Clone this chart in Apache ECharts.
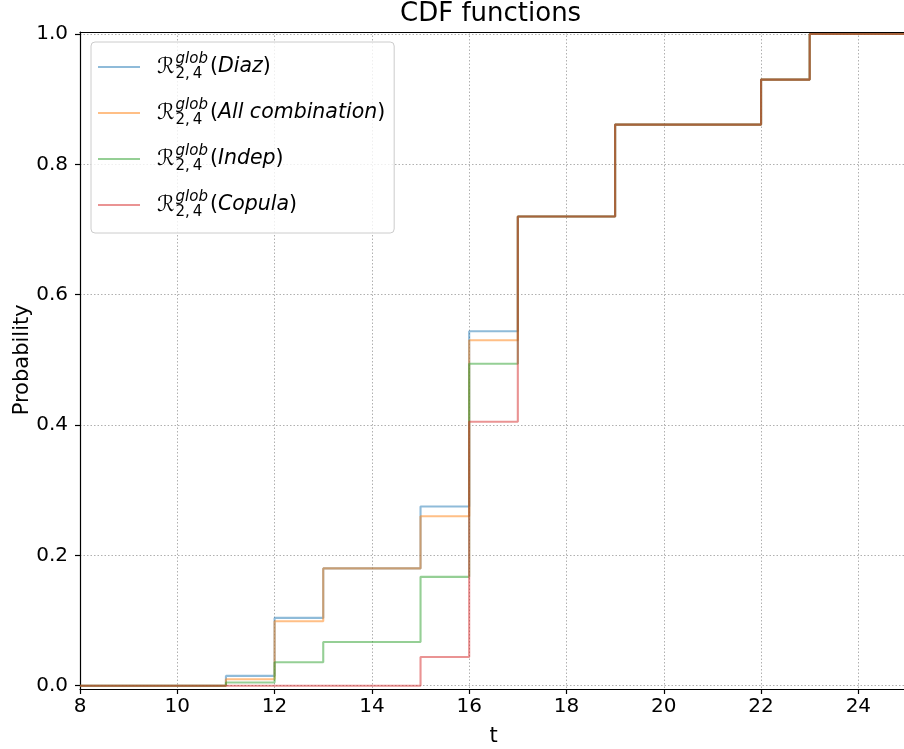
<!DOCTYPE html>
<html>
<head>
<meta charset="utf-8">
<script src="https://cdn.jsdelivr.net/npm/echarts@6/dist/echarts.min.js"></script>
<style>html,body{margin:0;padding:0;background:#fff;}#c{width:904px;height:749px;}</style>
</head>
<body>
<div id="c"></div>
<script>
// Data (step CDF, value holds from t until next t)
const tValues = [8, 11, 12, 13, 15, 16, 17, 19, 22, 23, 25];
const diaz     = [0, 0.015, 0.104, 0.180, 0.275, 0.544, 0.720, 0.861, 0.930, 1.0, 1.0];
const allComb  = [0, 0.010, 0.099, 0.180, 0.260, 0.530, 0.720, 0.861, 0.930, 1.0, 1.0];
const indep    = [0, 0.005, 0.036, 0.067, 0.167, 0.494, 0.720, 0.861, 0.930, 1.0, 1.0];
const copula   = [0, 0, 0, 0, 0.044, 0.405, 0.720, 0.861, 0.930, 1.0, 1.0];
const seriesNames = ['Diaz', 'All combination', 'Indep', 'Copula'];
const seriesValues = [diaz, allComb, indep, copula];
const colors = ['#1f77b4', '#ff7f0e', '#2ca02c', '#d62728'];
const xTickInterval = 2;
const yTickInterval = 0.2;

const FONT = 'DejaVu Sans';
const chart = echarts.init(document.getElementById('c'), null, {renderer: 'canvas'});

const gridLine = {show: true, lineStyle: {color: '#b0b0b0', width: 1, type: [1.5, 2]}};

const series = seriesNames.map((name, k) => ({
  name: name,
  type: 'line',
  step: 'end',
  symbol: 'none',
  clip: false,
  xAxisIndex: 2,
  yAxisIndex: 1,
  z: 3,
  data: tValues.map((t, i) => [t, seriesValues[k][i]]),
  lineStyle: {color: colors[k], width: 2.1, opacity: 0.5},
  itemStyle: {color: colors[k], opacity: 0.5}
}));

chart.setOption({
  animation: false,
  backgroundColor: '#ffffff',
  title: {
    text: 'CDF functions',
    left: 400, top: 1, padding: 0,
    textStyle: {fontFamily: FONT, fontSize: 26, fontWeight: 'normal', color: '#000'}
  },
  legend: {
    orient: 'vertical',
    left: 91, top: 42,
    padding: [10, 9, 13, 7],
    itemGap: 16,
    icon: 'rect',
    itemWidth: 42, itemHeight: 2,
    backgroundColor: 'rgba(255,255,255,0.8)',
    borderColor: '#cccccc', borderWidth: 1, borderRadius: 4,
    data: seriesNames,
    formatter: function (name) {
      return '{sp|}{r|ℛ}{sub|2,\u20094}{sup|glob}{p|(}{it|' + name + '}{p|)}';
    },
    textStyle: {
      fontFamily: FONT, color: '#000', fontSize: 21,
      rich: {
        sp: {width: 12, lineHeight: 30},
        r: {fontFamily: FONT, fontSize: 22, lineHeight: 30, verticalAlign: 'middle', padding: [0, 1, 0, 0]},
        sub: {fontFamily: FONT, fontSize: 15, lineHeight: 14, verticalAlign: 'bottom', width: 0},
        sup: {fontFamily: FONT, fontSize: 15, fontStyle: 'italic', lineHeight: 14, verticalAlign: 'top', padding: [0, 2, 0, 0]},
        p: {fontFamily: FONT, fontSize: 20.5, lineHeight: 30, verticalAlign: 'middle'},
        it: {fontFamily: FONT, fontSize: 20.5, fontStyle: 'italic', lineHeight: 30, verticalAlign: 'middle'}
      }
    }
  },
  grid: [
    {left: 80, right: -3, top: 32, bottom: 60, containLabel: false, outerBoundsMode: 'none'},
    {left: 80, right: -3, top: 34, bottom: 63.3, containLabel: false, outerBoundsMode: 'none'}
  ],
  xAxis: [
    {
      gridIndex: 0, type: 'value', position: 'bottom',
      min: 8, max: 25, interval: xTickInterval,
      name: 't', nameLocation: 'middle', nameGap: 37, nameMoveOverlap: false,
      nameTextStyle: {fontFamily: FONT, fontSize: 21, color: '#000'},
      axisLine: {show: true, onZero: false, lineStyle: {color: '#000', width: 1.2}},
      axisTick: {show: true, inside: false, length: 5, lineStyle: {color: '#000', width: 1.2}},
      axisLabel: {show: true, margin: 8, fontFamily: FONT, fontSize: 20, color: '#000',
        formatter: v => (v <= 24 ? String(v) : '')},
      splitLine: gridLine
    },
    {
      gridIndex: 0, type: 'value', position: 'top',
      min: 8, max: 25, interval: xTickInterval,
      axisLine: {show: true, onZero: false, lineStyle: {color: '#000', width: 1.2}},
      axisTick: {show: false}, axisLabel: {show: false}, splitLine: {show: false}
    },
    {
      gridIndex: 1, type: 'value', min: 8, max: 25, interval: xTickInterval, show: false
    }
  ],
  yAxis: [
    {
      gridIndex: 0, type: 'value', position: 'left', min: 0, max: 1,
      axisLine: {show: true, onZero: false, lineStyle: {color: '#000', width: 1.2}},
      axisTick: {show: false}, axisLabel: {show: false}, splitLine: {show: false}
    },
    {
      gridIndex: 1, type: 'value', position: 'left',
      min: 0, max: 1, interval: yTickInterval,
      name: 'Probability', nameLocation: 'middle', nameGap: 46.5, nameRotate: 90, nameMoveOverlap: false,
      nameTextStyle: {fontFamily: FONT, fontSize: 21, color: '#000'},
      axisLine: {show: false},
      axisTick: {show: true, inside: false, length: 5, lineStyle: {color: '#000', width: 1.2}},
      axisLabel: {show: true, margin: 12, fontFamily: FONT, fontSize: 20, color: '#000',
        formatter: v => v.toFixed(1)},
      splitLine: gridLine
    }
  ],
  series: series
});
</script>
</body>
</html>
